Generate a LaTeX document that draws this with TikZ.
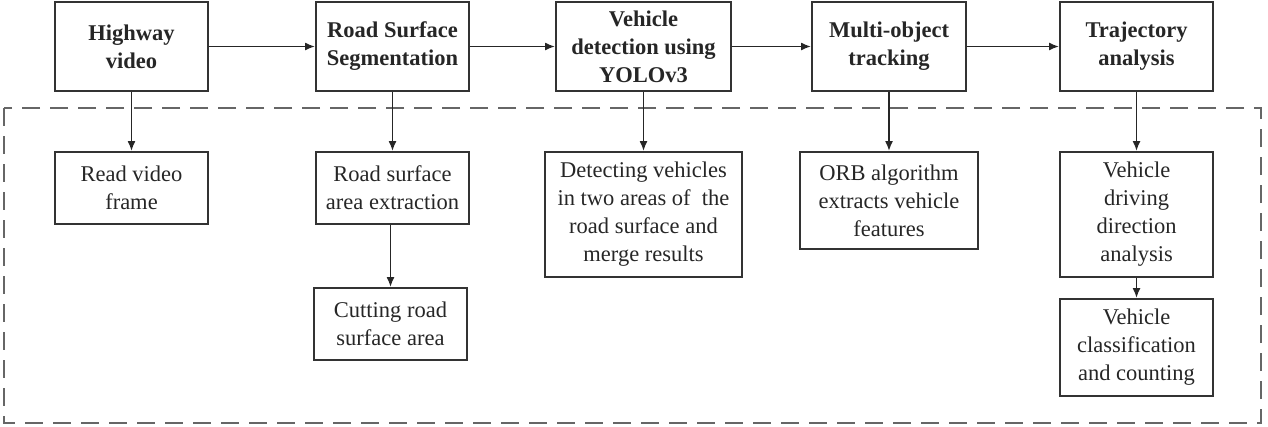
\documentclass[tikz,border=0pt]{standalone}
\usepackage{fontspec}
\newfontfamily\tnr{Liberation Serif}
\usetikzlibrary{arrows.meta}
\begin{document}
\begin{tikzpicture}[x=1pt,y=-1pt,
  box/.style={draw=black!80, line width=1.8pt, align=center, text=black!85, inner sep=0pt,
    font=\tnr\fontsize{22.5}{28}\selectfont},
  topbox/.style={box, font=\tnr\fontsize{22.5}{28}\selectfont\bfseries, minimum height=89pt},
  arr/.style={-{Latex[length=10pt,width=8pt]}, line width=1.8pt, draw=black!85},
  frame/.style={draw=black!60, line width=1.6pt, dash pattern=on 18pt off 10pt}]
\useasboundingbox (0,0) rectangle (1268,426);
\draw[frame] (4,108) rectangle (1261,423);
% top row
\node[topbox, minimum width=153pt] (h) at (131.5,46.5) {Highway\\video};
\node[topbox, minimum width=153pt] (r) at (392.5,46.5) {Road Surface\\Segmentation};
\node[topbox, minimum width=175pt] (v) at (643.5,46.5) {Vehicle\\detection using\\YOLOv3};
\node[topbox, minimum width=154pt] (m) at (889,46.5) {Multi-object\\tracking};
\node[topbox, minimum width=153pt] (t) at (1136.5,46.5) {Trajectory\\analysis};
% bottom
\node[box, minimum width=153pt, minimum height=72pt] (rv) at (131.5,188) {Read video\\frame};
\node[box, minimum width=153pt, minimum height=72pt] (re) at (392.5,188) {Road surface\\area extraction};
\node[box, minimum width=153pt, minimum height=72pt] (cut) at (390.5,324) {Cutting road\\surface area};
\node[box, minimum width=197pt, minimum height=125pt] (det) at (643.5,214.5) {Detecting vehicles\\in two areas of\ \ the\\road surface and\\merge results};
\node[box, minimum width=178pt, minimum height=97pt] (orb) at (889,200.5) {ORB algorithm\\extracts vehicle\\features};
\node[box, minimum width=153pt, minimum height=125pt] (dir) at (1136.5,214.5) {Vehicle\\driving\\direction\\analysis};
\node[box, minimum width=153pt, minimum height=97pt] (cls) at (1136.5,347.5) {Vehicle\\classification\\and counting};
% arrows
\draw[arr] (h) -- (r);
\draw[arr] (r) -- (v);
\draw[arr] (v) -- (m);
\draw[arr] (m) -- (t);
\draw[arr] (h.south) -- (rv.north);
\draw[arr] (r.south) -- (re.north);
\draw[arr] (re.south -| cut.north) -- (cut.north);
\draw[arr] (v.south) -- (det.north);
\draw[arr] (m.south) -- (orb.north);
\draw[arr] (t.south) -- (dir.north);
\draw[arr] (dir.south) -- (cls.north);
\end{tikzpicture}
\end{document}
